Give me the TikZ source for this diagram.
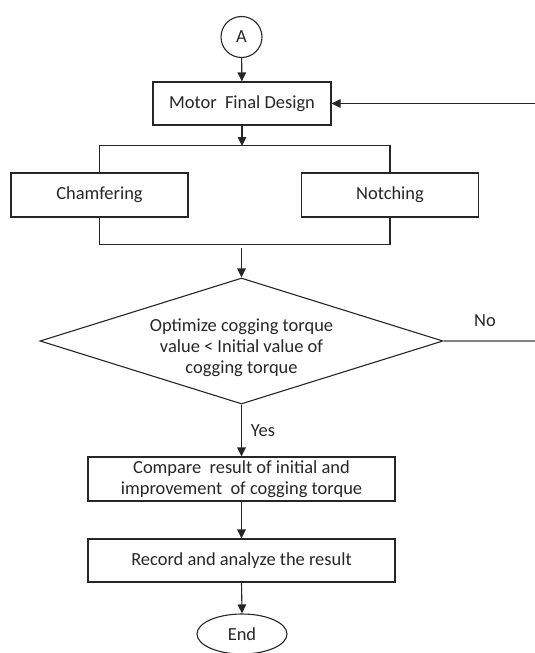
\documentclass[tikz,border=0pt]{standalone}
\usepackage{fontspec}
\setmainfont{Carlito}
\usetikzlibrary{shapes.geometric,arrows.meta}
\begin{document}
\begin{tikzpicture}[x=1bp,y=-1bp,
  every node/.style={font=\fontsize{18.5}{21}\selectfont, text=black!85},
  ln/.style={draw=black!85, line width=1.1bp},
  arr/.style={ln, -{Triangle[length=9bp,width=8.5bp]}},
  box/.style={ln, rectangle, inner sep=0pt, align=center},
  nol/.style={draw=black!50, line width=1.6bp},
]
\useasboundingbox (0,0) rectangle (535,653);
% nodes
\node[ln, circle, minimum size=41bp, inner sep=0pt] (A) at (241.5,37) {A};
\node[box, minimum width=178bp, minimum height=43bp] (motor) at (242,103.5) {Motor\ \ Final Design};
\node[box, minimum width=177bp, minimum height=44bp] (cham) at (99.5,195) {Chamfering};
\node[box, minimum width=177bp, minimum height=44bp] (notch) at (390,195) {Notching};
\node[ln, diamond, aspect=3.2, minimum width=403bp, minimum height=126bp, inner sep=0pt] (dec) at (241.5,341) {};
\node[align=center, inner sep=0pt] (dtext) at (241.5,348) {Optimize cogging torque\\value < Initial value of\\cogging torque};
\node[box, minimum width=307bp, minimum height=44bp] (cmp) at (241.5,479) {Compare\ \ result of initial and\\improvement\ \ of cogging torque};
\node[box, minimum width=307bp, minimum height=43bp] (rec) at (241.5,560.5) {Record and analyze the result};
\node[ln, ellipse, minimum width=90bp, minimum height=40bp, inner sep=0pt] (endn) at (242,634) {End};
\node (no) at (485,321) {No};
\node (yes) at (263,431) {Yes};
% coordinates
\coordinate (rin) at (535,103.5);
\coordinate (split) at (242,146);
\coordinate (merge) at (241.5,248);
\coordinate (nout) at (535,341);
% connectors
\draw[arr] (A) -- (motor);
\draw[arr] (rin) -- (motor.east);
\draw[arr] (motor.south) -- (split);
\draw[ln] (cham.north) -- ++(0,-27) -| (notch.north);
\draw[ln] (cham.south) -- ++(0,27) -| (notch.south);
\draw[arr] (merge) -- (dec.north);
\draw[nol] (dec.east) -- (nout);
\draw[arr] (dec.south) -- (cmp.north);
\draw[arr] (cmp.south) -- (rec.north);
\draw[arr] (rec.south) -- (endn.north);
\end{tikzpicture}
\end{document}
